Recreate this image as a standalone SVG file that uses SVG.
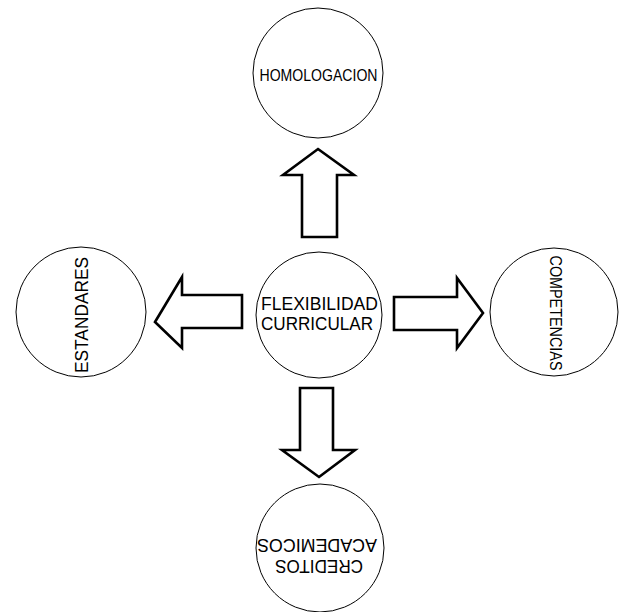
<svg xmlns="http://www.w3.org/2000/svg" width="619" height="612" viewBox="0 0 619 612">
<style>
.c{fill:#fff;stroke:#000;stroke-width:1}
.t{font-family:"Liberation Sans",Arial,sans-serif;fill:#000;text-anchor:middle}
.a{fill:#fff;stroke:#000;stroke-width:2.6;stroke-linejoin:miter}
</style>
<rect width="619" height="612" fill="#fff"/>
<g id="connectors">
<polygon class="a" points="318,149 354,175 337,175 337,237 302,237 302,175 283,175"/>
<polygon class="a" points="155,322 182,277 182,295 242,295 242,328 182,328 182,348"/>
<polygon class="a" points="483,313 457,278 457,297 394,297 394,330 457,330 457,348"/>
<polygon class="a" points="319,477 355,450 333,450 333,388 300,388 300,450 282,450"/>
</g>
<g id="homologacion">
<circle class="c" cx="318" cy="73" r="65"/>
<text class="t" x="318.5" y="81" font-size="16" textLength="118" lengthAdjust="spacingAndGlyphs">HOMOLOGACION</text>
</g>
<g id="flexibilidad">
<circle class="c" cx="319" cy="315" r="63"/>
<text class="t" x="319.5" y="310" font-size="17.5" textLength="117" lengthAdjust="spacingAndGlyphs">FLEXIBILIDAD</text>
<text class="t" x="317" y="330" font-size="17.5" textLength="112" lengthAdjust="spacingAndGlyphs">CURRICULAR</text>
</g>
<g id="estandares">
<circle class="c" cx="81" cy="312" r="65"/>
<text class="t" x="0" y="0" font-size="18" textLength="116" lengthAdjust="spacingAndGlyphs" transform="translate(88 315) rotate(-90)">ESTANDARES</text>
</g>
<g id="competencias">
<circle class="c" cx="554" cy="312" r="64"/>
<text class="t" x="0" y="0" font-size="17" textLength="115" lengthAdjust="spacingAndGlyphs" transform="translate(550 313) rotate(90)">COMPETENCIAS</text>
</g>
<g id="creditos">
<circle class="c" cx="320" cy="548" r="64"/>
<g transform="rotate(180 319 556)">
<text class="t" x="319" y="552" font-size="17.5" textLength="88" lengthAdjust="spacingAndGlyphs">CREDITOS</text>
<text class="t" x="321" y="573" font-size="17.5" textLength="120" lengthAdjust="spacingAndGlyphs">ACADEMICOS</text>
</g>
</g>
</svg>
